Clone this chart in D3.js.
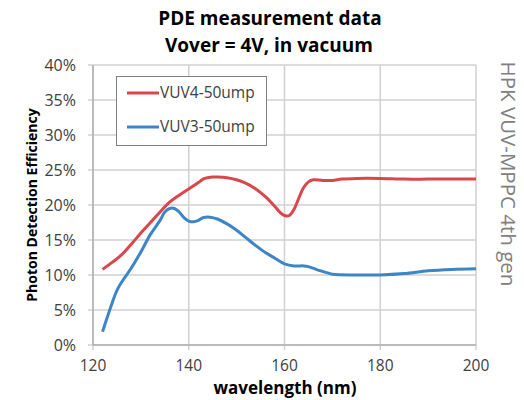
<!DOCTYPE html>
<html><head><meta charset="utf-8">
<script src="https://cdn.jsdelivr.net/npm/d3@7"></script>
<style>body{margin:0;background:#fff}svg{display:block}text{font-family:"Open Sans",sans-serif}</style>
</head><body><svg id="c" width="524" height="400"></svg>
<script>
const seriesNames = ["VUV4-50ump", "VUV3-50ump"];
const vuv4Wl = [122,124,126,128,130,132,134,136,138,140,142,143,144,145,146,148,150,152,154,156,158,159,160,161,162,163,164,165,166,168,170,172,175,180,185,190,195,200];
const vuv4Pde = [10.8,11.8,12.9,14.4,16.0,17.5,19.0,20.4,21.4,22.3,23.2,23.7,23.9,24.0,24.0,23.9,23.6,23.1,22.3,21.2,19.8,19.0,18.5,18.5,19.4,21.0,22.5,23.3,23.6,23.5,23.5,23.7,23.8,23.8,23.7,23.7,23.7,23.7];
const vuv3Wl = [122,123,124,125,126,128,130,132,134,135,136,137,138,139,140,141,142,143,144,145,146,148,150,152,154,156,158,160,162,164,165,167,169,170,175,180,185,190,195,200];
const vuv3Pde = [1.9,4.0,6.0,7.8,9.0,11.0,13.3,15.8,17.8,19.0,19.5,19.5,19.0,18.2,17.7,17.6,17.8,18.2,18.3,18.2,18.0,17.3,16.4,15.3,14.2,13.2,12.4,11.6,11.3,11.3,11.2,10.7,10.3,10.1,10.0,10.0,10.2,10.6,10.8,10.9];
const xTicks = [120,140,160,180,200];
const yTicks = [0,5,10,15,20,25,30,35,40];

const svg = d3.select("#c");
const L=93, R=476, T=65, B=345;
const x = d3.scaleLinear().domain([120,200]).range([L,R]);
const y = d3.scaleLinear().domain([0,40]).range([B,T]);
const grid = "#d0d0d0";

svg.append("g").selectAll("line").data(yTicks).join("line")
  .attr("x1",L-5).attr("x2",R).attr("y1",d=>y(d)).attr("y2",d=>y(d))
  .attr("stroke",grid).attr("stroke-width",1.5);
svg.append("g").selectAll("line").data(xTicks).join("line")
  .attr("y1",T).attr("y2",B+5).attr("x1",d=>x(d)).attr("x2",d=>x(d))
  .attr("stroke",grid).attr("stroke-width",1.5);
svg.append("line").attr("x1",L).attr("x2",L).attr("y1",T).attr("y2",B).attr("stroke","#b0b0b0").attr("stroke-width",1.5);
svg.append("line").attr("x1",L).attr("x2",R).attr("y1",B).attr("y2",B).attr("stroke","#b0b0b0").attr("stroke-width",1.5);

svg.append("g").selectAll("text").data(yTicks).join("text")
  .attr("x",76).attr("y",d=>y(d)).attr("dy","0.35em").attr("text-anchor","end")
  .attr("font-size",16).attr("fill","#404040").text(d=>d+"%");
svg.append("g").selectAll("text").data(xTicks).join("text")
  .attr("x",d=>x(d)).attr("y",366).attr("dy","0.35em").attr("text-anchor","middle")
  .attr("font-size",15.5).attr("fill","#404040").text(d=>d);

const line = d3.line().x(d=>x(d[0])).y(d=>y(d[1])).curve(d3.curveCatmullRom.alpha(0.5));
const colors = ["#d9464b","#3d85c6"];
svg.append("path").datum(d3.zip(vuv4Wl,vuv4Pde)).attr("d",line).attr("fill","none").attr("stroke",colors[0]).attr("stroke-width",3);
svg.append("path").datum(d3.zip(vuv3Wl,vuv3Pde)).attr("d",line).attr("fill","none").attr("stroke",colors[1]).attr("stroke-width",3);

svg.append("rect").attr("x",116.5).attr("y",76.5).attr("width",150).attr("height",69)
  .attr("fill","#fff").attr("stroke","#808080").attr("stroke-width",1);
seriesNames.forEach((n,i)=>{
  const yy = 93 + i*34;
  svg.append("line").attr("x1",127).attr("x2",159).attr("y1",yy).attr("y2",yy).attr("stroke",colors[i]).attr("stroke-width",3);
  svg.append("text").attr("x",160).attr("y",yy).attr("dy","0.35em").attr("font-size",15.5).attr("fill","#404040").text(n);
});

svg.append("text").attr("x",270).attr("y",25).attr("text-anchor","middle").attr("font-size",19).attr("font-weight","bold").attr("fill","#000").text("PDE measurement data");
svg.append("text").attr("x",269).attr("y",52).attr("text-anchor","middle").attr("font-size",19).attr("font-weight","bold").attr("fill","#000").text("Vover = 4V, in vacuum");
svg.append("text").attr("x",285).attr("y",394).attr("text-anchor","middle").attr("font-size",17).attr("font-weight","bold").attr("fill","#000").text("wavelength (nm)");
svg.append("text").attr("transform","translate(32,205) rotate(-90)").attr("dy","0.35em").attr("text-anchor","middle").attr("font-size",14).attr("font-weight","bold").attr("fill","#000").text("Photon Detection Efficiency");
svg.append("text").attr("transform","translate(508,174) rotate(90)").attr("dy","0.35em").attr("text-anchor","middle").attr("font-size",20.5).attr("fill","#808080").text("HPK VUV-MPPC 4th gen");
</script></body></html>
